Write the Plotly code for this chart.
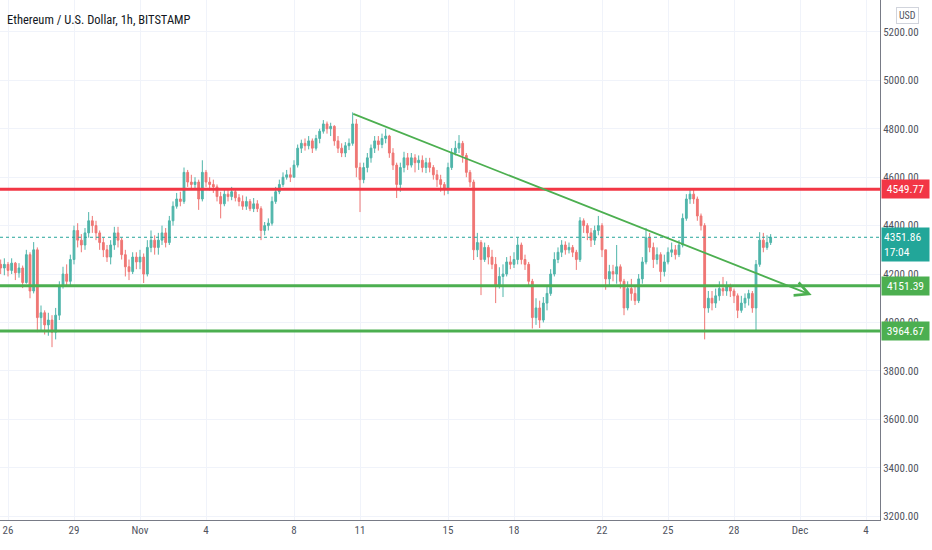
import plotly.graph_objects as go
import pandas as pd

# 4h candles (first candle Oct 25 16:00)
start = "2021-10-25 16:00"
first_open = 4240

closes = [
    4225, 4240,
    4215, 4245, 4205, 4225, 4165, 4280,  # Oct 26
    4130, 4300, 4020, 4040, 3990, 4010,  # Oct 27
    3960, 4030, 4150, 4200, 4170, 4260,  # Oct 28
    4380, 4340, 4320, 4370, 4420, 4400,  # Oct 29
    4370, 4330, 4300, 4270, 4320, 4370,  # Oct 30
    4340, 4280, 4230, 4210, 4270, 4250,  # Oct 31
    4270, 4200, 4310, 4340, 4310, 4340,  # Nov 1
    4370, 4330, 4420, 4480, 4510, 4500,  # Nov 2
    4620, 4580, 4570, 4580, 4510, 4620,  # Nov 3
    4580, 4570, 4560, 4520, 4490, 4530,  # Nov 4
    4520, 4540, 4515, 4500, 4480, 4500,  # Nov 5
    4470, 4490, 4470, 4380, 4400, 4410,  # Nov 6
    4500, 4540, 4570, 4600, 4610, 4600,  # Nov 7
    4650, 4720, 4740, 4730, 4750, 4720,  # Nov 8
    4760, 4790, 4820, 4800, 4810, 4750,  # Nov 9
    4720, 4700, 4730, 4740, 4820, 4640,  # Nov 10
    4590, 4640, 4680, 4720, 4750, 4735,  # Nov 11
    4760, 4770, 4700, 4650, 4570, 4640,  # Nov 12
    4680, 4650, 4680, 4660, 4670, 4640,  # Nov 13
    4660, 4640, 4610, 4590, 4570, 4550,  # Nov 14
    4640, 4700, 4720, 4740, 4690, 4620,  # Nov 15
    4580, 4300, 4330, 4260, 4310, 4270,  # Nov 16
    4240, 4150, 4190, 4200, 4250, 4240,  # Nov 17
    4260, 4320, 4260, 4240, 4170, 4020,  # Nov 18
    4060, 4010, 4080, 4120, 4200, 4260,  # Nov 19
    4290, 4320, 4300, 4310, 4290, 4260,  # Nov 20
    4420, 4400, 4370, 4340, 4380, 4400,  # Nov 21
    4300, 4180, 4210, 4200, 4230, 4170,  # Nov 22
    4060, 4140, 4120, 4090, 4180, 4250,  # Nov 23
    4350, 4310, 4260, 4280, 4210, 4250,  # Nov 24
    4290, 4300, 4280, 4320, 4430, 4510,  # Nov 25
    4530, 4510, 4440, 4400, 4060, 4100,  # Nov 26
    4080, 4110, 4140, 4130, 4150, 4130,  # Nov 27
    4110, 4050, 4080, 4100, 4120, 4060,  # Nov 28
    4240, 4340, 4310, 4330, 4351.86,     # Nov 29
]

highs = [
    4260, 4265,
    4250, 4265, 4250, 4245, 4235, 4300,
    4290, 4332, 4310, 4070, 4050, 4040,
    4030, 4060, 4170, 4230, 4240, 4280,
    4400, 4410, 4365, 4390, 4456, 4440,
    4420, 4380, 4350, 4320, 4340, 4395,
    4395, 4350, 4300, 4260, 4290, 4290,
    4300, 4285, 4340, 4380, 4360, 4370,
    4400, 4390, 4440, 4500, 4535, 4540,
    4640, 4630, 4610, 4600, 4590, 4670,
    4630, 4600, 4590, 4570, 4540, 4550,
    4550, 4560, 4550, 4530, 4525, 4520,
    4510, 4514, 4505, 4480, 4415, 4430,
    4520, 4560, 4590, 4620, 4630, 4640,
    4670, 4735, 4755, 4760, 4770, 4760,
    4775, 4800, 4836, 4830, 4825, 4815,
    4770, 4740, 4745, 4760, 4868, 4840,
    4660, 4660, 4700, 4735, 4770, 4770,
    4780, 4800, 4775, 4720, 4660, 4660,
    4705, 4700, 4700, 4695, 4690, 4690,
    4680, 4680, 4650, 4630, 4610, 4580,
    4660, 4720, 4750, 4774, 4750, 4700,
    4630, 4590, 4370, 4340, 4330, 4320,
    4300, 4270, 4228, 4240, 4270, 4275,
    4290, 4350, 4330, 4280, 4250, 4180,
    4100, 4090, 4105, 4150, 4220, 4290,
    4310, 4340, 4335, 4330, 4320, 4300,
    4435, 4430, 4410, 4390, 4400, 4440,
    4410, 4300, 4238, 4238, 4320, 4240,
    4180, 4170, 4180, 4150, 4200, 4270,
    4390, 4370, 4330, 4310, 4290, 4280,
    4310, 4330, 4320, 4340, 4450, 4530,
    4555, 4550, 4520, 4450, 4410, 4130,
    4130, 4140, 4170, 4188, 4170, 4160,
    4140, 4120, 4110, 4120, 4135, 4130,
    4258, 4373, 4370, 4360, 4365,
]

lows = [
    4200, 4195,
    4190, 4200, 4175, 4185, 4142, 4160,
    4100, 4120, 3960, 3965, 3950, 3945,
    3898, 3930, 4010, 4140, 4150, 4150,
    4240, 4310, 4290, 4300, 4350, 4370,
    4340, 4300, 4270, 4250, 4240, 4300,
    4310, 4260, 4190, 4175, 4200, 4220,
    4220, 4163, 4190, 4290, 4280, 4280,
    4320, 4310, 4320, 4400, 4470, 4480,
    4490, 4560, 4555, 4550, 4465, 4500,
    4560, 4545, 4535, 4500, 4430, 4480,
    4500, 4505, 4500, 4480, 4465, 4465,
    4460, 4456, 4456, 4340, 4360, 4380,
    4400, 4490, 4530, 4560, 4590, 4580,
    4600, 4640, 4700, 4710, 4715, 4700,
    4710, 4740, 4780, 4780, 4770, 4730,
    4700, 4683, 4683, 4712, 4730, 4600,
    4456, 4575, 4620, 4660, 4700, 4710,
    4720, 4740, 4680, 4630, 4514, 4540,
    4620, 4630, 4640, 4620, 4630, 4620,
    4617, 4620, 4590, 4560, 4540, 4525,
    4530, 4630, 4690, 4700, 4660, 4600,
    4560, 4258, 4270, 4113, 4250, 4240,
    4220, 4080, 4140, 4105, 4190, 4220,
    4225, 4240, 4240, 4217, 4150, 3975,
    3990, 3977, 4000, 4050, 4110, 4190,
    4245, 4270, 4280, 4285, 4270, 4217,
    4250, 4370, 4340, 4312, 4320, 4360,
    4270, 4135, 4150, 4170, 4160, 4140,
    4030, 4050, 4090, 4072, 4080, 4160,
    4240, 4290, 4225, 4240, 4167, 4190,
    4240, 4270, 4260, 4270, 4310, 4420,
    4490, 4490, 4420, 4380, 3930, 4040,
    4050, 4060, 4090, 4110, 4110, 4105,
    4080, 4018, 4040, 4060, 4070, 4040,
    3969, 4230, 4290, 4300, 4320,
]

# drawn levels and trend line
level_prices = [4549.77, 4151.39, 3964.67]
level_colors = ["#f23645", "#4caf50", "#4caf50"]
last_price = 4351.86
bar_countdown = "17:04"
trend_dates = ["2021-11-10 15:00", "2021-12-01 12:45"]
trend_prices = [4864, 4113]

tick_dates = ["2021-10-26", "2021-10-29", "2021-11-01", "2021-11-04", "2021-11-08",
              "2021-11-11", "2021-11-15", "2021-11-18", "2021-11-22", "2021-11-25",
              "2021-11-28", "2021-12-01", "2021-12-04"]
tick_labels = ["26", "29", "Nov", "4", "8", "11", "15", "18", "22", "25", "28", "Dec", "4"]

dates = pd.date_range(start, periods=len(closes), freq="4h")
opens = [first_open] + closes[:-1]

up = "#4fb5aa"
down = "#ef7674"
grid = "#f0f3fa"
txt = "#50535e"
font = "Liberation Sans Narrow, Roboto Condensed, Roboto, sans-serif"

fig = go.Figure(go.Candlestick(
    x=dates, open=opens, high=highs, low=lows, close=closes,
    increasing=dict(line=dict(color=up, width=1), fillcolor=up),
    decreasing=dict(line=dict(color=down, width=1), fillcolor=down),
    whiskerwidth=0, showlegend=False,
))

# last price dotted line
fig.add_shape(type="line", xref="paper", x0=0, x1=1, yref="y", y0=last_price, y1=last_price,
              line=dict(color="#26a69a", width=1, dash="dot"))

# horizontal levels
for p, c in zip(level_prices, level_colors):
    fig.add_shape(type="line", xref="paper", x0=0, x1=1, yref="y", y0=p, y1=p,
                  line=dict(color=c, width=3))

# trend line with open arrow head
fig.add_annotation(x=trend_dates[1], y=trend_prices[1], ax=trend_dates[0], ay=trend_prices[0],
                   xref="x", yref="y", axref="x", ayref="y", text="", showarrow=True,
                   arrowhead=5, arrowsize=1.5, arrowwidth=1.8, arrowcolor="#4caf50")

# price labels on the axis
labels = []
for p, c in zip(level_prices, level_colors):
    labels.append(dict(x=1, xref="paper", xanchor="left", xshift=1, y=p, yref="y",
                       text="%.2f" % p, showarrow=False, bgcolor=c, borderpad=2,
                       font=dict(color="white", size=11.5, family=font), width=43))
labels.append(dict(x=1, xref="paper", xanchor="left", xshift=1, y=last_price, yref="y",
                   yanchor="top", yshift=10, text="%.2f<br>%s" % (last_price, bar_countdown),
                   showarrow=False, bgcolor="#22a699", borderpad=2, align="left",
                   font=dict(color="white", size=11.5, family=font), width=43))
labels.append(dict(x=0, xref="paper", xanchor="left", xshift=5, y=1, yref="paper",
                   yanchor="top", yshift=-10, text="Ethereum / U.S. Dollar, 1h, BITSTAMP",
                   showarrow=False, font=dict(color="#131722", size=12.5, family=font)))
labels.append(dict(x=1, xref="paper", xanchor="left", xshift=16, y=1, yref="paper",
                   yanchor="top", yshift=-7, text="USD", showarrow=False,
                   bordercolor="#d1d4dc", borderwidth=1, borderpad=2,
                   font=dict(color=txt, size=10, family=font)))
for a in labels:
    fig.add_annotation(**a)

fig.update_layout(
    width=932, height=550,
    margin=dict(l=0, r=52, t=0, b=30),
    paper_bgcolor="white", plot_bgcolor="white",
    font=dict(family=font, size=11, color=txt),
    xaxis=dict(
        type="date", range=["2021-10-25 15:16", "2021-12-04 15:16"],
        rangeslider=dict(visible=False),
        tickvals=tick_dates, ticktext=tick_labels,
        showgrid=True, gridcolor=grid, zeroline=False,
        showline=True, linecolor="#787b86", linewidth=1, ticks="",
        tickfont=dict(size=11, color=txt),
    ),
    yaxis=dict(
        side="right", range=[3184, 5332], tick0=3200, dtick=200, tickformat=".2f",
        showgrid=True, gridcolor=grid, zeroline=False,
        showline=True, linecolor="#787b86", linewidth=1, ticks="",
        tickfont=dict(size=11, color=txt),
    ),
)

# the page body has a default 8px margin; drop it so the chart fills the window
fig.write_html("out.html", config={"displayModeBar": False},
               post_script="document.body.style.margin='0';")
